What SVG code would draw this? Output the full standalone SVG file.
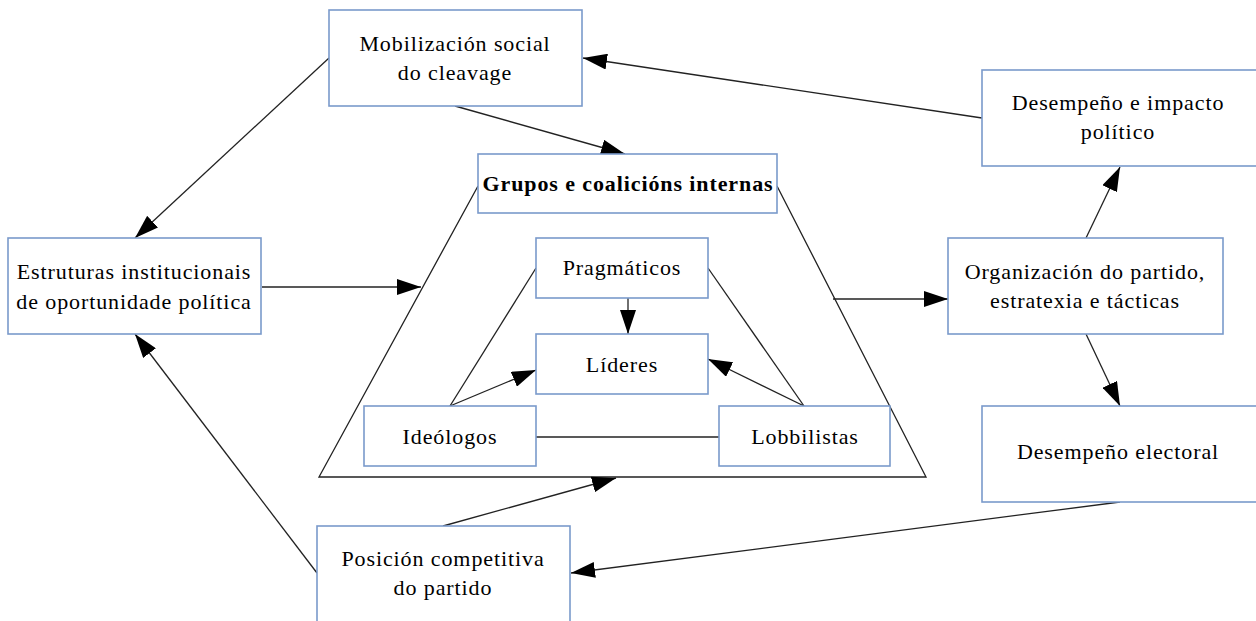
<svg xmlns="http://www.w3.org/2000/svg" width="1256" height="621" viewBox="0 0 1256 621">
<defs>
<marker id="ah" markerUnits="userSpaceOnUse" markerWidth="24" markerHeight="16" refX="24" refY="8" orient="auto">
<path d="M0,0 L24,8 L0,16 z" fill="#000"/>
</marker>
<style>
.box{fill:#fff;stroke:#7a9acb;stroke-width:1.6}
.t{font-family:"Liberation Serif","Times New Roman",serif;font-size:22px;letter-spacing:0.9px;fill:#000;text-anchor:middle}
.b{font-weight:bold}
.c{fill:none;stroke:#222;stroke-width:1.3}
.a{fill:none;stroke:#222;stroke-width:1.3;marker-end:url(#ah)}
</style>
</defs>
<rect width="1256" height="621" fill="#fff"/>
<g id="connectors">
<polyline class="c" points="478,186 319,477 926,477 777,186"/>
<line class="c" x1="536" y1="268" x2="450" y2="406"/>
<line class="c" x1="708" y1="268" x2="804" y2="406"/>
<line class="c" x1="536" y1="437" x2="719" y2="437"/>
<line class="a" x1="628" y1="298" x2="628" y2="334"/>
<line class="a" x1="450" y1="406" x2="536" y2="370"/>
<line class="a" x1="804" y1="406" x2="708" y2="359"/>
<line class="a" x1="262" y1="287" x2="421" y2="287"/>
<line class="a" x1="833" y1="299" x2="948" y2="299"/>
<line class="a" x1="455" y1="106" x2="625" y2="154"/>
<line class="a" x1="329" y1="58" x2="135" y2="238"/>
<line class="a" x1="317" y1="573" x2="135" y2="334"/>
<line class="a" x1="982" y1="118" x2="583" y2="58"/>
<line class="a" x1="1086" y1="238" x2="1120" y2="167"/>
<line class="a" x1="1086" y1="334" x2="1120" y2="406"/>
<line class="a" x1="1120" y1="502" x2="571" y2="573"/>
<line class="a" x1="443" y1="526" x2="616" y2="478"/>
</g>
<g id="mobilizacion">
<rect class="box" x="329" y="10" width="253" height="96"/>
<text class="t" x="455" y="51">Mobilización social</text>
<text class="t" x="455" y="80">do cleavage</text>
</g>
<g id="grupos">
<rect class="box" x="478" y="154" width="299" height="59"/>
<text class="t b" x="628" y="191">Grupos e coalicións internas</text>
</g>
<g id="estruturas">
<rect class="box" x="8" y="238" width="253" height="96"/>
<text class="t" x="134" y="279">Estruturas institucionais</text>
<text class="t" x="134" y="309">de oportunidade política</text>
</g>
<g id="pragmaticos">
<rect class="box" x="536" y="238" width="172" height="60"/>
<text class="t" x="622" y="275">Pragmáticos</text>
</g>
<g id="lideres">
<rect class="box" x="536" y="334" width="172" height="60"/>
<text class="t" x="622" y="372">Líderes</text>
</g>
<g id="ideologos">
<rect class="box" x="364" y="406" width="172" height="60"/>
<text class="t" x="450" y="444">Ideólogos</text>
</g>
<g id="lobbilistas">
<rect class="box" x="719" y="406" width="171" height="60"/>
<text class="t" x="805" y="444">Lobbilistas</text>
</g>
<g id="desempeno-impacto">
<rect class="box" x="982" y="70" width="278" height="96"/>
<text class="t" x="1118" y="110">Desempeño e impacto</text>
<text class="t" x="1118" y="139">político</text>
</g>
<g id="organizacion">
<rect class="box" x="948" y="238" width="275" height="96"/>
<text class="t" x="1085" y="279">Organización do partido,</text>
<text class="t" x="1085" y="308">estratexia e tácticas</text>
</g>
<g id="desempeno-electoral">
<rect class="box" x="982" y="406" width="278" height="96"/>
<text class="t" x="1118" y="459">Desempeño electoral</text>
</g>
<g id="posicion">
<rect class="box" x="317" y="526" width="253" height="100"/>
<text class="t" x="443" y="566">Posición competitiva</text>
<text class="t" x="443" y="595">do partido</text>
</g>
</svg>
